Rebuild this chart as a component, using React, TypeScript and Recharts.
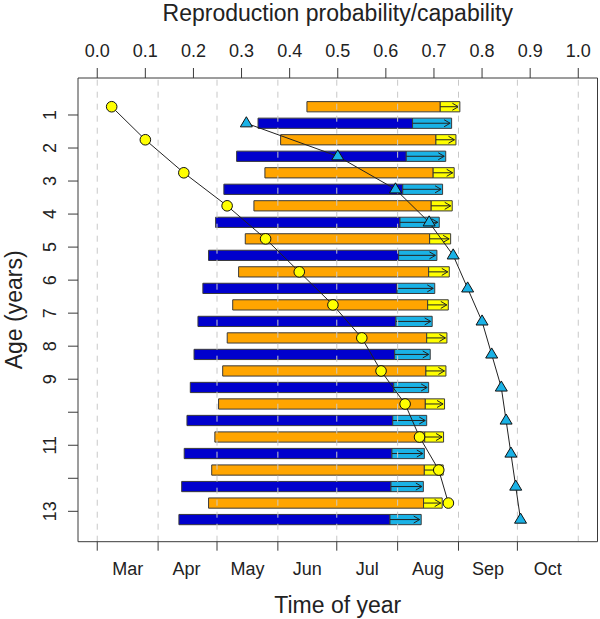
import {
  ComposedChart,
  ReferenceArea,
  ReferenceLine,
  Scatter,
  XAxis,
  YAxis,
} from "recharts"

// time is counted in days from 1 March; the top axis runs 0..1 over Mar 1 .. Nov 1
const ages = [1, 2, 3, 4, 5, 6, 7, 8, 9, 10, 11, 12, 13]
const ageLabels = ["1", "2", "3", "4", "5", "6", "7", "8", "9", "", "11", "", "13"]

const monthNames = ["Mar", "Apr", "May", "Jun", "Jul", "Aug", "Sep", "Oct"]
const monthStarts = [0, 31, 61, 92, 122, 153, 184, 214]
const monthMids = [15.5, 45.5, 76.5, 107, 137.5, 168.5, 199, 229.5]
const gridDays = [0, 31, 61, 92, 122, 153, 184, 214, 245]
const probTicks = [0, 0.1, 0.2, 0.3, 0.4, 0.5, 0.6, 0.7, 0.8, 0.9, 1]

// orange rows (drawn just above each age)
const orangeStart = [106.8, 93.4, 85.4, 79.8, 75.4, 72.0, 69.0, 66.2, 63.9, 61.8, 59.9, 58.3, 56.7]
const orangeSwitch = [174.7, 172.5, 171.1, 170.1, 169.3, 168.8, 168.3, 167.8, 167.4, 167.1, 166.8, 166.6, 166.2]
const orangeEnd = [184.7, 182.7, 181.8, 180.8, 180.0, 179.3, 178.8, 178.1, 177.6, 176.9, 176.4, 176.2, 175.7]

// blue rows (drawn just below each age)
const blueStart = [81.9, 71.0, 64.5, 60.3, 56.7, 53.8, 51.3, 49.3, 47.4, 45.7, 44.3, 43.0, 41.6]
const blueSwitch = [160.6, 157.4, 155.6, 154.2, 153.5, 152.7, 152.1, 151.5, 151.0, 150.5, 150.1, 149.6, 149.1]
const blueEnd = [180.5, 177.5, 175.9, 174.2, 173.0, 171.9, 170.6, 169.6, 168.8, 167.8, 166.6, 166.1, 165.0]

// probability curves
const circleProb = [0.03, 0.1, 0.18, 0.27, 0.35, 0.42, 0.49, 0.55, 0.59, 0.64, 0.67, 0.71, 0.73]
const triangleProb = [0.31, 0.5, 0.62, 0.69, 0.74, 0.77, 0.8, 0.82, 0.84, 0.85, 0.86, 0.87, 0.88]

const DAY_DOMAIN: [number, number] = [-9.8, 254.8]
const PROB_DOMAIN: [number, number] = [-0.04, 1.04]
const AGE_DOMAIN: [number, number] = [-0.12, 13.92]
const ROW_OFFSET = 0.25
const BAR_HALF = 0.155

const ORANGE = "#FFA500"
const YELLOW = "#FFFF00"
const DARK_BLUE = "#0000CD"
const LIGHT_BLUE = "#1AB2E6"
const EDGE = "#3a3a3a"
const INK = "#222"
const FONT = "'Liberation Sans', Arial, Helvetica, sans-serif"

// one row per age, so the time axes have data behind them
const rows = ages.map((a, i) => ({
  age: a,
  day: blueStart[i],
  dayEnd: orangeEnd[i],
}))
const circlePoints = ages.map((a, i) => ({ p: circleProb[i], age: a - ROW_OFFSET }))
const trianglePoints = ages.map((a, i) => ({ p: triangleProb[i], age: a + ROW_OFFSET }))

const AgeTick = ({ x, y, payload }: any) => (
  <text
    x={0}
    y={0}
    transform={`translate(${x},${y}) rotate(-90)`}
    textAnchor="middle"
    fontSize={18}
    fill={INK}
  >
    {ageLabels[ages.indexOf(payload.value)]}
  </text>
)

const Dot = ({ cx, cy }: any) => (
  <circle cx={cx} cy={cy} r={5.3} fill={YELLOW} stroke="#111" strokeWidth={1} />
)

const Tri = ({ cx, cy }: any) => (
  <polygon
    points={`${cx},${cy - 6.5} ${cx - 6},${cy + 3.6} ${cx + 6},${cy + 3.6}`}
    fill={LIGHT_BLUE}
    stroke="#111"
    strokeWidth={1}
  />
)

const Arrow = ({ x1, y1, x2, y2 }: any) => {
  const tip = x2 - 1.5
  return (
    <g>
      <line x1={x1} y1={y1} x2={tip} y2={y2} stroke={INK} strokeWidth={1} />
      <path
        d={`M${tip - 6},${y2 - 3.5}L${tip},${y2}L${tip - 6},${y2 + 3.5}`}
        fill="none"
        stroke={INK}
        strokeWidth={1}
      />
    </g>
  )
}

const segment = (key: string, a: number, x1: number, x2: number, fill: string) => (
  <ReferenceArea
    key={key}
    xAxisId="day"
    yAxisId="age"
    x1={x1}
    x2={x2}
    y1={a - BAR_HALF}
    y2={a + BAR_HALF}
    fill={fill}
    fillOpacity={1}
    stroke={EDGE}
    strokeWidth={1}
    ifOverflow="visible"
  />
)

const arrow = (key: string, a: number, x1: number, x2: number) => (
  <ReferenceLine
    key={key}
    xAxisId="day"
    yAxisId="age"
    segment={[
      { x: x1, y: a },
      { x: x2, y: a },
    ]}
    shape={Arrow}
    ifOverflow="visible"
  />
)

export default function App() {
  return (
    <div
      style={{
        position: "absolute",
        left: 0,
        top: 0,
        width: 600,
        height: 619,
        background: "#fff",
        fontFamily: FONT,
      }}
    >
      <ComposedChart
        width={600}
        height={619}
        data={rows}
        margin={{ top: 0, right: 2.5, bottom: 0, left: 0 }}
      >
        <XAxis
          xAxisId="prob"
          type="number"
          dataKey="p"
          orientation="top"
          domain={PROB_DOMAIN}
          allowDataOverflow
          ticks={probTicks}
          interval={0}
          tickFormatter={(v: number) => v.toFixed(1)}
          height={78}
          tickSize={10}
          tickMargin={11.5}
          tick={{ fontSize: 18, fill: INK }}
          axisLine={{ stroke: EDGE }}
          tickLine={{ stroke: EDGE }}
          label={{
            value: "Reproduction probability/capability",
            position: "insideTop",
            offset: 5,
            fontSize: 23,
            fill: INK,
          }}
        />
        <XAxis
          xAxisId="day"
          type="number"
          dataKey="day"
          orientation="bottom"
          domain={DAY_DOMAIN}
          allowDataOverflow
          ticks={monthStarts}
          interval={0}
          tickFormatter={() => ""}
          height={9}
          tickSize={9}
          axisLine={{ stroke: EDGE }}
          tickLine={{ stroke: EDGE }}
        />
        <XAxis
          xAxisId="mid"
          type="number"
          dataKey="day"
          orientation="bottom"
          domain={DAY_DOMAIN}
          allowDataOverflow
          ticks={monthMids}
          interval={0}
          tickFormatter={(v: number) => monthNames[monthMids.indexOf(v)]}
          height={68.3}
          tickSize={0}
          tickMargin={12}
          tickLine={false}
          axisLine={false}
          tick={{ fontSize: 18, fill: INK }}
          label={{
            value: "Time of year",
            position: "insideBottom",
            offset: 6,
            fontSize: 23,
            fill: INK,
          }}
        />
        <YAxis
          yAxisId="age"
          type="number"
          dataKey="age"
          domain={AGE_DOMAIN}
          allowDataOverflow
          reversed
          ticks={ages}
          interval={0}
          width={78}
          tickSize={10}
          tickMargin={12.5}
          tick={<AgeTick />}
          axisLine={{ stroke: EDGE }}
          tickLine={{ stroke: EDGE }}
          label={{
            value: "Age (years)",
            position: "insideLeft",
            angle: -90,
            offset: 14,
            fontSize: 23,
            fill: INK,
            style: { textAnchor: "middle" },
          }}
        />

        {ages.map((a, i) =>
          segment(`ob${a}`, a - ROW_OFFSET, orangeStart[i], orangeSwitch[i], ORANGE)
        )}
        {ages.map((a, i) =>
          segment(`oy${a}`, a - ROW_OFFSET, orangeSwitch[i], orangeEnd[i], YELLOW)
        )}
        {ages.map((a, i) =>
          segment(`bd${a}`, a + ROW_OFFSET, blueStart[i], blueSwitch[i], DARK_BLUE)
        )}
        {ages.map((a, i) =>
          segment(`bl${a}`, a + ROW_OFFSET, blueSwitch[i], blueEnd[i], LIGHT_BLUE)
        )}
        {ages.map((a, i) => arrow(`oa${a}`, a - ROW_OFFSET, orangeSwitch[i], orangeEnd[i]))}
        {ages.map((a, i) => arrow(`ba${a}`, a + ROW_OFFSET, blueSwitch[i], blueEnd[i]))}

        {gridDays.map((d) => (
          <ReferenceLine
            key={`g${d}`}
            xAxisId="day"
            yAxisId="age"
            x={d}
            stroke="#c8c8c8"
            strokeDasharray="6 6"
          />
        ))}
        <ReferenceLine
          xAxisId="day"
          yAxisId="age"
          x={DAY_DOMAIN[1]}
          stroke={EDGE}
          ifOverflow="visible"
        />

        <Scatter
          xAxisId="prob"
          yAxisId="age"
          data={circlePoints}
          line={{ stroke: INK, strokeWidth: 1 }}
          lineType="joint"
          shape={Dot}
          isAnimationActive={false}
        />
        <Scatter
          xAxisId="prob"
          yAxisId="age"
          data={trianglePoints}
          line={{ stroke: INK, strokeWidth: 1 }}
          lineType="joint"
          shape={Tri}
          isAnimationActive={false}
        />
      </ComposedChart>
    </div>
  )
}
